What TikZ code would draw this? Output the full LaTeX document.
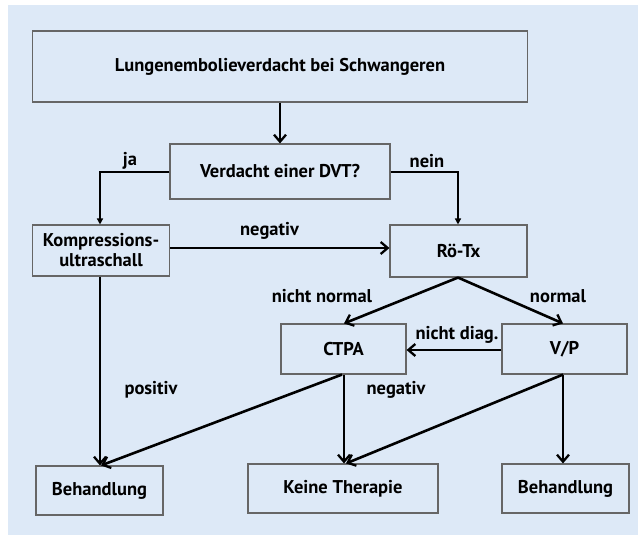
\documentclass[tikz,border=0pt]{standalone}
\usepackage{fontspec}
\setmainfont{PT Sans}
\usetikzlibrary{arrows.meta}
\definecolor{bgblue}{HTML}{DDE9F7}
\definecolor{boxline}{HTML}{666666}
\tikzset{
  box/.style={draw=boxline, line width=1.1pt, minimum width=#1, inner sep=0pt, align=center, font=\bfseries\fontsize{18.5}{21}\selectfont},
  lbl/.style={font=\bfseries\fontsize{18.5}{21}\selectfont, inner sep=0pt},
  thickarrow/.style={line width=2.6pt, -{Straight Barb[length=7pt,width=12pt,line width=2.3pt]}},
  thinarrow/.style={line width=1.6pt, -{Triangle[length=6pt,width=6pt]}}
}
\begin{document}
\begin{tikzpicture}[x=1pt,y=-1pt]
\useasboundingbox (0,0) rectangle (638,535);
\fill[bgblue] (8,5) rectangle (638,535);
\node[box=494.5pt, minimum height=71pt] (top) at (280,66.5) {Lungenembolieverdacht bei Schwangeren};
\node[box=220pt, minimum height=55pt] (dvt) at (280,171.5) {Verdacht einer DVT?};
\node[box=137.5pt, minimum height=51pt] (kus) at (101,250.5) {Kompressions-\\[-1pt]ultraschall};
\node[box=137pt, minimum height=52pt] (rtx) at (458.5,251) {Rö-Tx};
\node[box=125pt, minimum height=50pt] (ctpa) at (343.5,349) {CTPA};
\node[box=125pt, minimum height=50pt] (vp) at (564.5,349) {V/P};
\node[box=127pt, minimum height=49pt] (beh1) at (99.5,490.5) {Behandlung};
\node[box=190pt, minimum height=49pt] (keine) at (343,488.5) {Keine Therapie};
\node[box=127pt, minimum height=49pt] (beh2) at (565.5,488.5) {Behandlung};

\draw[thickarrow] (top.south) -- (dvt.north);
\draw[thinarrow] (dvt.west |- 0,172) -| (kus.north -| 100,0);
\draw[thinarrow] (dvt.east |- 0,172) -| (rtx.north -| 458,0);
\draw[thickarrow] (kus.east |- 0,248) -- (rtx.west |- 0,248);
\draw[thickarrow] (rtx.south -| 458,0) -- (ctpa.north -| 344,0);
\draw[thickarrow] (rtx.south -| 458,0) -- (vp.north -| 563,0);
\draw[thickarrow] (vp.west |- 0,350) -- (ctpa.east |- 0,350);
\draw[thickarrow] (kus.south -| 100,0) -- (beh1.north -| 100,0);
\draw[thickarrow] (ctpa.south -| 342,0) -- (beh1.north -| 101,0);
\draw[thickarrow] (ctpa.south -| 344,0) -- (keine.north -| 344,0);
\draw[thickarrow] (vp.south -| 563,0) -- (keine.north -| 346,0);
\draw[thickarrow] (vp.south -| 563,0) -- (beh2.north -| 563,0);

\node[lbl] (lja) at (130,161) {ja};
\node[lbl] (lnein) at (427,161) {nein};
\node[lbl] (lneg1) at (269.5,231) {negativ};
\node[lbl] (lnn) at (322,296) {nicht normal};
\node[lbl] (lnorm) at (558,296) {normal};
\node[lbl] (lnd) at (457,335) {nicht diag.};
\node[lbl] (lpos) at (151,390) {positiv};
\node[lbl] (lneg2) at (396,390) {negativ};
\end{tikzpicture}
\end{document}
